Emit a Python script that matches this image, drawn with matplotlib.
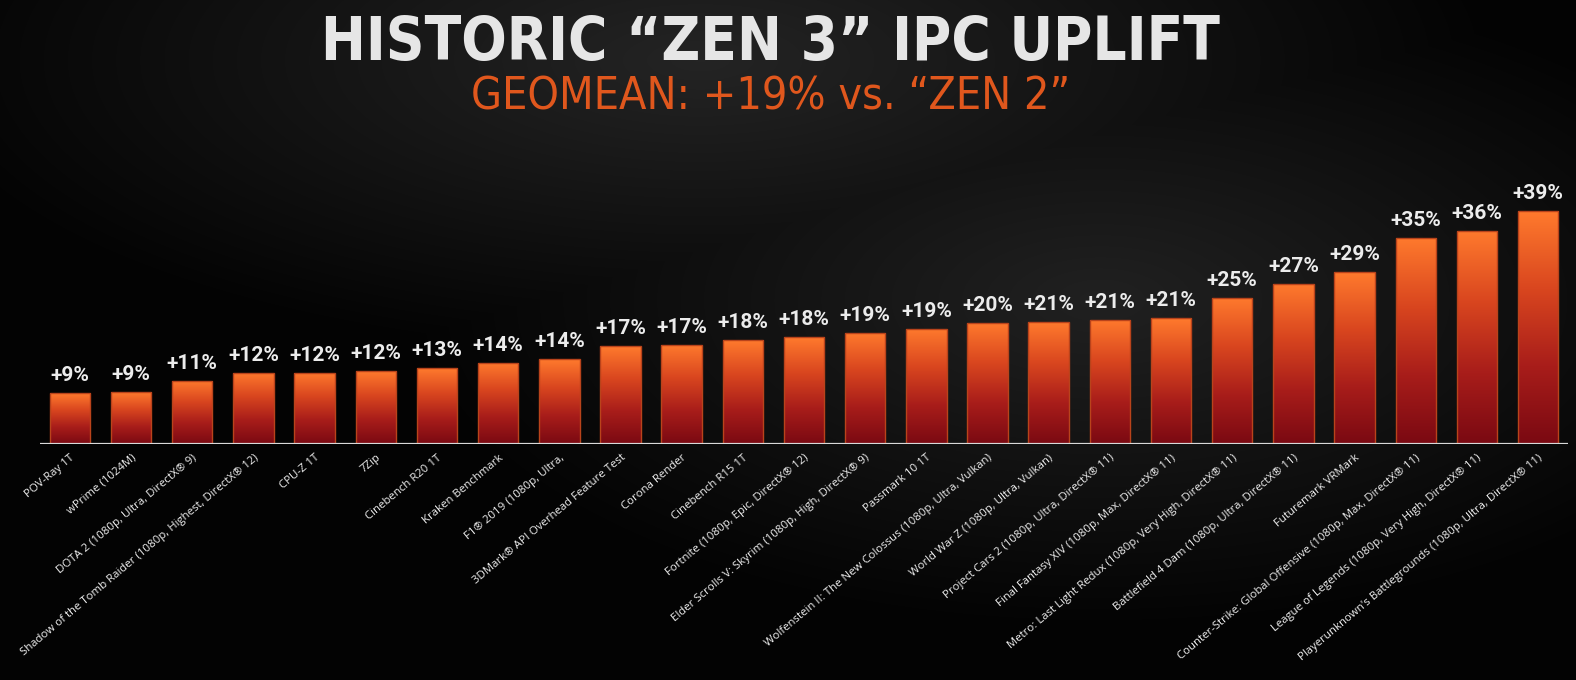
import numpy as np
import matplotlib
matplotlib.use("Agg")
import matplotlib.pyplot as plt
from matplotlib.colors import LinearSegmentedColormap
from matplotlib import font_manager as fm

benchmarks = [
    "POV-Ray 1T",
    "wPrime (1024M)",
    "DOTA 2 (1080p, Ultra, DirectX® 9)",
    "Shadow of the Tomb Raider (1080p, Highest, DirectX® 12)",
    "CPU-Z 1T",
    "7Zip",
    "Cinebench R20 1T",
    "Kraken Benchmark",
    "F1® 2019 (1080p, Ultra,",
    "3DMark® API Overhead Feature Test",
    "Corona Render",
    "Cinebench R15 1T",
    "Fortnite (1080p, Epic, DirectX® 12)",
    "Elder Scrolls V: Skyrim (1080p, High, DirectX® 9)",
    "Passmark 10 1T",
    "Wolfenstein II: The New Colossus (1080p, Ultra, Vulkan)",
    "World War Z (1080p, Ultra, Vulkan)",
    "Project Cars 2 (1080p, Ultra, DirectX® 11)",
    "Final Fantasy XIV (1080p, Max, DirectX® 11)",
    "Metro: Last Light Redux (1080p, Very High, DirectX® 11)",
    "Battlefield 4 Dam (1080p, Ultra, DirectX® 11)",
    "Futuremark VRMark",
    "Counter-Strike: Global Offensive (1080p, Max, DirectX® 11)",
    "League of Legends (1080p, Very High, DirectX® 11)",
    "Playerunknown's Battlegrounds (1080p, Ultra, DirectX® 11)",
]
# bar heights (% uplift)
uplift = [8.5, 8.7, 10.6, 11.9, 11.9, 12.2, 12.7, 13.6, 14.2, 16.4, 16.6, 17.4,
          17.9, 18.6, 19.3, 20.3, 20.4, 20.8, 21.1, 24.5, 26.8, 28.8, 34.5, 35.7, 39.0]
# printed value labels
value_labels = ["+9%", "+9%", "+11%", "+12%", "+12%", "+12%", "+13%", "+14%", "+14%",
                "+17%", "+17%", "+18%", "+18%", "+19%", "+19%", "+20%", "+21%", "+21%",
                "+21%", "+25%", "+27%", "+29%", "+35%", "+36%", "+39%"]

title = "HISTORIC “ZEN 3” IPC UPLIFT"
subtitle = "GEOMEAN: +19% vs. “ZEN 2”"

W, H = 1576, 680
fig = plt.figure(figsize=(W / 100, H / 100), dpi=100)
fig.patch.set_facecolor("black")

# background: dark radial gradient (decoration)
bg = fig.add_axes([0, 0, 1, 1], zorder=-10)
yy, xx = np.mgrid[0:H, 0:W]
d1 = np.sqrt(((xx - 700) / 800.0) ** 2 + ((yy - 60) / 300.0) ** 2)
d2 = np.sqrt(((xx - 1100) / 700.0) ** 2 + ((yy - 300) / 330.0) ** 2)
inten = np.maximum(np.clip(1.0 - d1, 0, 1), 0.9 * np.clip(1.0 - d2, 0, 1))
val = 0.012 + 0.13 * inten
img = np.dstack([val, val, val])
bg.imshow(img, aspect="auto", extent=[0, 1, 0, 1], origin="upper")
bg.set_axis_off()

ax = fig.add_axes([40 / W, (H - 444) / H, (1568 - 40) / W, 268.7 / H])
ax.set_facecolor("none")
x = np.arange(len(benchmarks))
bars = ax.bar(x, uplift, width=0.66, color="none", edgecolor="#b9431b",
              linewidth=1.0, zorder=3)

cmap = LinearSegmentedColormap.from_list(
    "amd", ["#7a0912", "#a81d1a", "#d9461f", "#ff7a2d"])
grad = np.linspace(0, 1, 256).reshape(-1, 1)
for b in bars:
    x0 = b.get_x()
    w = b.get_width()
    h = b.get_height()
    im = ax.imshow(grad, extent=[x0, x0 + w, 0, h], origin="lower",
                   aspect="auto", cmap=cmap, zorder=2)
    im.set_clip_path(b)

for xi, v, lab in zip(x, uplift, value_labels):
    ax.annotate(lab, (xi, v), xytext=(0, 8.5), textcoords="offset points",
                ha="center", va="baseline", color="#ececec",
                fontsize=15, fontweight="bold", family=["Roboto", "DejaVu Sans"])

ax.set_xlim(-0.49, len(benchmarks) - 0.51)
ax.set_ylim(0, 45)
for s in ax.spines.values():
    s.set_visible(False)
ax.axhline(0, color="#d9d9d9", lw=1.6, zorder=4)
ax.set_yticks([])
ax.set_xticks(x)
ax.set_xticklabels(benchmarks, rotation=40, ha="right", rotation_mode="anchor",
                   fontsize=8.2, color="#f0f0f0", family=["Open Sans", "DejaVu Sans"])
ax.tick_params(axis="x", length=0, pad=6)

# choose a narrow font for the heading if one exists
cond = fm.findfont(fm.FontProperties(family="DejaVu Sans", stretch="condensed",
                                     weight="bold"))
if "Condensed" in cond:
    tfam, tstretch = ["DejaVu Sans"], "condensed"
else:
    tfam, tstretch = ["Roboto", "DejaVu Sans"], "normal"

t1 = fig.text(0.489, 1 - 60 / H, title, ha="center", va="baseline", color="#e6e6e6",
              fontsize=54, fontweight="bold", family=tfam, fontstretch=tstretch)
t2 = fig.text(0.489, 1 - 110 / H, subtitle, ha="center", va="baseline", color="#e0571d",
              fontsize=38, fontweight="light", family=tfam, fontstretch=tstretch)

# fit heading widths to the reference
r = fig.canvas.get_renderer()
for t, target in ((t1, 902), (t2, 600)):
    wpx = t.get_window_extent(r).width
    t.set_fontsize(t.get_fontsize() * target / wpx)

fig.savefig("out.png", dpi=100, facecolor=fig.get_facecolor())
